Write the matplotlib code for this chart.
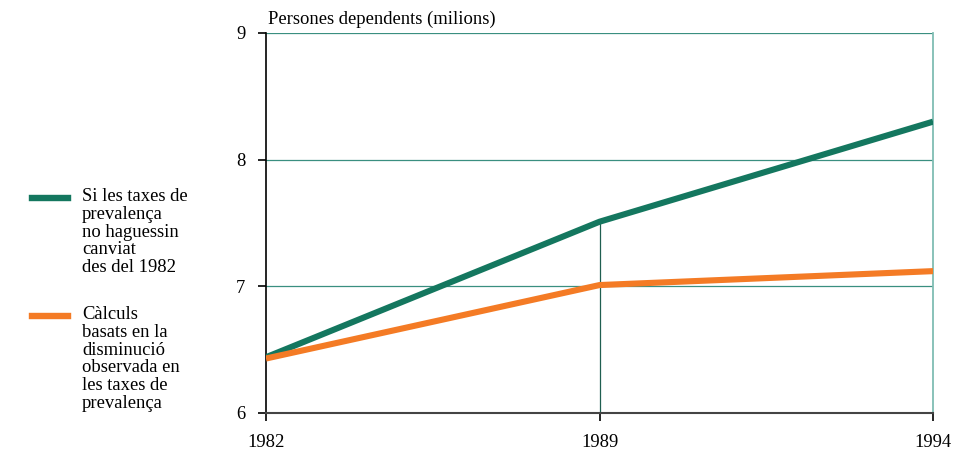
import matplotlib.pyplot as plt
import numpy as np

plt.rcParams['font.family'] = ['Liberation Serif', 'DejaVu Serif']

years = ['1982', '1989', '1994']
sense_canvi = [6.44, 7.51, 8.30]
disminucio = [6.43, 7.01, 7.12]

green = '#14775f'
orange = '#f47b25'
grid_col = '#3a8f80'
fs = 13.4

fig = plt.figure(figsize=(9.56, 4.74), dpi=100)
ax = fig.add_axes([0.2782, 0.1287, 0.976 - 0.2782, 0.9304 - 0.1287])

x = np.arange(len(years))

# horizontal grid lines
for v in [7, 8, 9]:
    ax.axhline(v, color=grid_col, lw=0.9, zorder=1)
# drop line at 1989
ax.plot([x[1], x[1]], [6, sense_canvi[1]], color='#1f5f50', lw=0.9, zorder=1)

ax.plot(x, sense_canvi, color=green, lw=4.4, solid_capstyle='butt', zorder=3)
ax.plot(x, disminucio, color=orange, lw=4.4, solid_capstyle='butt', zorder=3)

ax.set_xlim(x[0], x[-1])
ax.set_ylim(6, 9)
ax.set_xticks(x)
ax.set_xticklabels(years)
ax.set_yticks([6, 7, 8, 9])
ax.tick_params(axis='both', labelsize=fs, direction='out', length=6, width=1.2, colors='black')
ax.tick_params(axis='x', pad=9)
ax.tick_params(axis='y', pad=9)

ax.spines['top'].set_visible(False)
ax.spines['right'].set_color('#7fbdb3')
ax.spines['right'].set_linewidth(1.3)
ax.spines['left'].set_color('black')
ax.spines['left'].set_linewidth(1.2)
ax.spines['bottom'].set_color('#444444')
ax.spines['bottom'].set_linewidth(1.5)

fig.text(0.2803, 0.96, 'Persones dependents (milions)', fontsize=fs, ha='left', va='center')

# legend
fig.add_artist(plt.Line2D([32 / 956, 68 / 956], [1 - 198 / 474, 1 - 198 / 474], color=green, lw=4.6))
fig.text(82 / 956, 1 - 188 / 474, 'Si les taxes de\nprevalença\nno haguessin\ncanviat\ndes del 1982',
         fontsize=fs, ha='left', va='top', linespacing=1.06)
fig.add_artist(plt.Line2D([32 / 956, 68 / 956], [1 - 316 / 474, 1 - 316 / 474], color=orange, lw=4.6))
fig.text(82 / 956, 1 - 306 / 474, 'Càlculs\nbasats en la\ndisminució\nobservada en\nles taxes de\nprevalença',
         fontsize=fs, ha='left', va='top', linespacing=1.06)

fig.savefig('out.png', dpi=100)
